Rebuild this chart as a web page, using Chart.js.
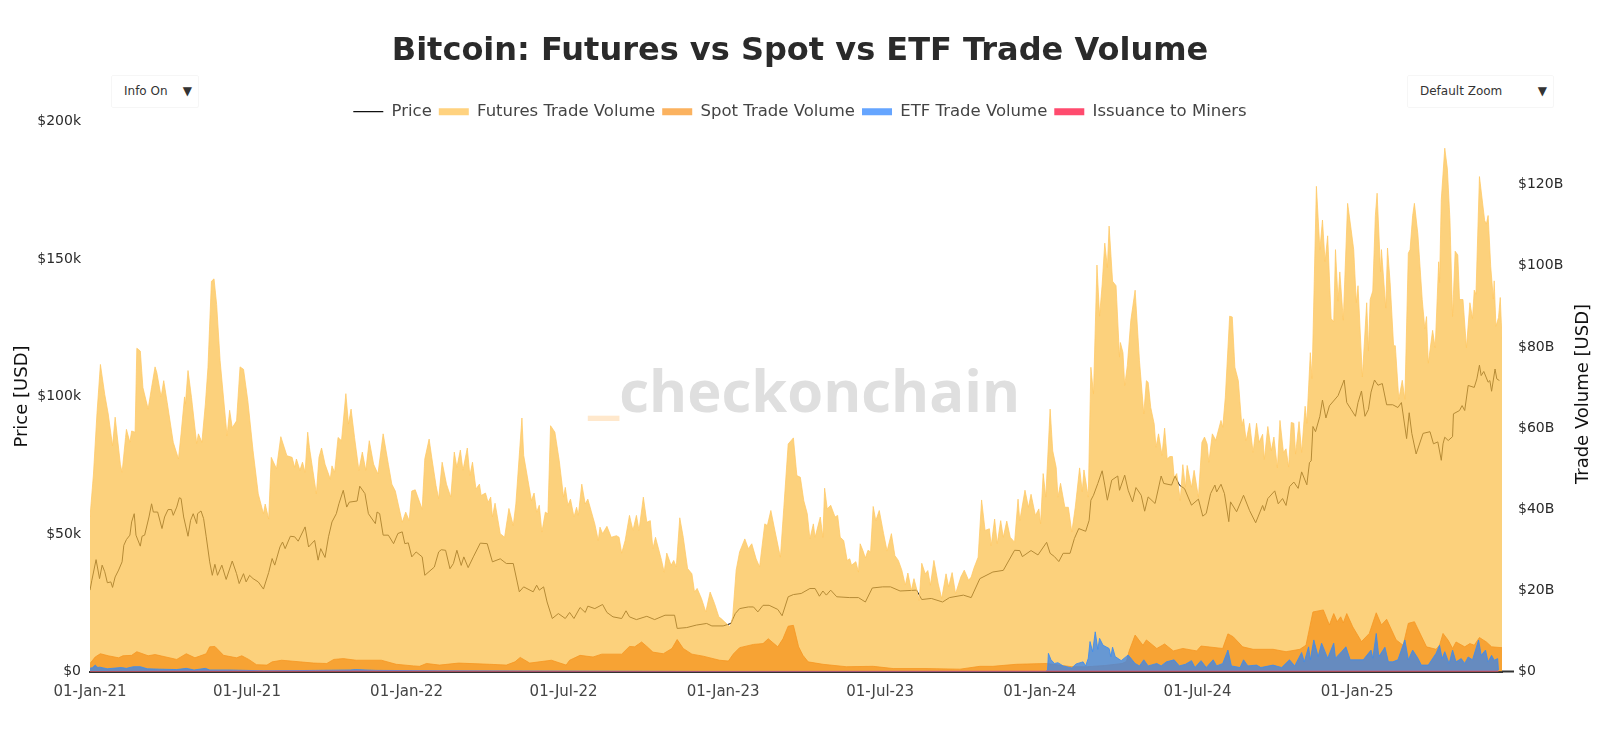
<!DOCTYPE html>
<html>
<head>
<meta charset="utf-8">
<title>Bitcoin: Futures vs Spot vs ETF Trade Volume</title>
<script src="https://cdn.jsdelivr.net/npm/chart.js@4"></script>
<style>
    html, body { margin: 0; padding: 0; background: #fff; }
    #wrap { position: relative; width: 1600px; height: 739px; overflow: hidden; font-family: 'DejaVu Sans', sans-serif; }
    #wrap canvas { position: absolute; left: 0; top: 0; z-index: 2; }
    #watermark { position: absolute; left: 588px; top: 350px; z-index: 1; font: 700 58px 'Open Sans', sans-serif; color: #dfdfdf; line-height: 80px; white-space: nowrap; }
    #watermark span { color: #ffe8cc; font-size: 76px; position: relative; top: -3px; line-height: 0; }
    .menu { position: absolute; top: 75px; height: 33px; z-index: 3; box-sizing: border-box; border: 1px solid #f6f6f6; border-radius: 2px; background: #fff; font-size: 12px; line-height: 31px; color: #333; padding-left: 12px; }
    .menu i { position: absolute; right: 6px; top: 0; font-style: normal; font-size: 12px; color: #333; }
    #rightTitle { position: absolute; left: 1482px; top: 382px; width: 200px; text-align: center; z-index: 3; font-size: 18px; line-height: 24px; color: #111; transform: rotate(-90deg); white-space: nowrap; }
</style>
</head>
<body>
<div id="wrap">
    <div id="watermark"><span>_</span>checkonchain</div>
    <canvas id="chart"></canvas>
    <div class="menu" style="left:111px;width:88px;">Info On<i>▼</i></div>
    <div class="menu" style="left:1407px;width:147px;">Default Zoom<i>▼</i></div>
    <div id="rightTitle">Trade Volume [USD]</div>
</div>
<script>
// x values are days since 01-Jan-21
const tickDays = [0, 181, 365, 546, 730, 911, 1095, 1277, 1461];
const tickLabels = ['01-Jan-21', '01-Jul-21', '01-Jan-22', '01-Jul-22', '01-Jan-23', '01-Jul-23', '01-Jan-24', '01-Jul-24', '01-Jan-25'];

const futuresDays = [0,4,8,12,17,21,26,29,35,37,41,42,46,48,52,54,58,61,67,71,75,77,82,85,89,96,102,105,109,110,113,117,123,125,129,133,136,140,143,146,150,158,161,164,169,173,177,182,188,194,200,202,206,209,215,220,227,233,236,238,242,245,248,251,253,261,264,267,271,275,277,279,282,286,290,295,298,301,305,310,314,318,322,327,332,338,344,348,352,360,364,368,371,375,383,386,391,394,399,402,406,411,416,420,423,427,430,435,438,441,445,449,451,456,459,462,464,467,473,478,483,488,491,498,500,505,509,512,515,518,521,525,528,531,536,541,546,548,551,554,558,561,563,567,571,574,582,586,588,591,596,601,607,610,613,617,622,626,630,633,638,642,646,649,652,659,662,665,670,673,676,680,684,689,694,697,700,705,710,715,720,725,728,732,738,741,745,749,755,759,763,768,772,778,781,785,790,796,800,805,811,815,819,823,827,830,834,836,842,845,847,850,854,859,862,865,869,873,876,878,883,886,888,891,894,897,900,903,906,910,915,919,924,928,932,936,940,943,947,950,954,956,959,963,966,969,973,978,982,987,990,994,998,1004,1008,1013,1016,1019,1024,1028,1032,1037,1039,1043,1046,1050,1053,1057,1061,1066,1070,1072,1078,1082,1085,1090,1094,1096,1099,1102,1107,1110,1114,1116,1119,1124,1128,1132,1136,1141,1144,1146,1151,1154,1157,1161,1164,1167,1170,1173,1175,1179,1183,1187,1188,1191,1193,1196,1200,1205,1210,1215,1218,1220,1223,1227,1229,1232,1236,1239,1242,1245,1248,1250,1253,1257,1260,1263,1265,1270,1273,1278,1282,1285,1288,1290,1294,1298,1304,1306,1309,1314,1317,1320,1324,1328,1330,1333,1337,1341,1345,1348,1352,1354,1358,1362,1365,1369,1372,1376,1379,1382,1385,1388,1390,1394,1397,1401,1403,1407,1409,1414,1418,1421,1424,1427,1431,1434,1436,1439,1441,1445,1450,1454,1457,1460,1462,1467,1472,1474,1476,1479,1482,1484,1488,1489,1494,1496,1499,1503,1505,1509,1513,1516,1520,1522,1525,1527,1531,1536,1539,1541,1543,1548,1551,1555,1556,1558,1562,1565,1568,1571,1574,1577,1579,1583,1587,1591,1594,1596,1598,1602,1608,1610,1612,1615,1618,1619,1621,1624,1626,1628];
const futuresBn = [38.1,48.7,63.5,75.7,68.3,63.5,55.6,62.7,51.1,49.1,57.7,59.7,56.5,59.3,59,79.7,79,70,64.7,70,75.1,73.7,67.7,71.7,66.3,56.5,52.4,58.6,67.7,65.9,74.2,67.6,56.2,58.6,56.5,65.9,74.9,96.2,96.8,90.5,76.6,58.1,64.4,60.1,61.8,75.1,74.5,66.7,54.4,43.8,38.9,41.3,37.6,52.8,50,57.9,53.2,52.8,50.3,52.4,49.6,51.6,49.1,59,55.2,43.8,52.8,55.1,51.1,48.7,47.4,50.7,49.1,57.7,56.9,68.5,61,64.7,57.7,49.6,54.1,49.6,56.9,51.1,48.7,58.6,51.1,46.2,44.5,36.8,39.3,37.2,44.5,44.8,40,52.4,57.3,52.8,45.8,42.6,51.6,46.2,43,54.1,50.3,54.6,49.6,55.1,48.3,51.6,45,46.2,43.4,44,41.7,43,38.1,41.5,34,33.1,40.2,36,41.3,62.5,53.3,47.1,42.1,44,39.3,41,34.4,39.3,38.9,60.6,59,52,43,45.4,41,42.5,38.1,40.5,38.5,46.2,41.3,42.5,36.4,32.3,35.6,34,35.8,33.1,33.5,33.1,29.2,32.3,38.5,34.8,38.5,34.8,43,36.8,37.2,30.3,33.1,27.4,24.5,29.2,26.2,27.4,25.8,37.9,33.1,25.4,24.1,19.6,20.5,18,14.7,19.6,16.8,13.5,13,12.2,11,13.5,25,29.5,32.7,30.3,31.5,27.8,25.8,36.4,36,39.7,34.4,28.2,40.5,56.1,57.6,48.3,47.9,42.1,38.9,32.7,36.4,33.1,38.1,33.1,45.2,40.1,41,38.1,38.5,33.1,32.3,27.4,27.8,26.2,27.1,24.5,31.5,29.9,28,29.9,29.5,40.7,37.2,39.7,34,29.7,34,28.6,27.4,25,21.3,24.3,20,22.9,19.6,17.5,26.7,24.1,24.9,21.3,27.4,21.6,18,24.1,20.9,24.4,19.2,23.3,25,22.5,23.3,25.4,28.2,42.3,34.8,35.2,31,37.6,31.5,37.2,33.1,37.1,33.1,31.9,42.5,37.2,44.7,40.5,43.7,38.5,40.1,36.4,48.8,43,64.7,54.4,50.3,43,46.4,40.5,40.5,34.4,40.5,50.2,44.3,49.7,43,75,68.4,100.2,87.6,95.4,105.6,99.6,109.8,96.2,95.1,77.5,81.1,78.6,70.5,75.4,86.5,94,76.6,63.5,71.7,71.3,65.1,61,55.3,58.6,53.3,60,52.4,53,53,47.9,48.8,42.2,51,45.4,50.8,45.4,49.6,43,56.5,57.8,56.1,51.6,58.6,57,61.9,60.2,67.6,87.6,87.4,75,71.7,60.6,62.3,56.9,61.2,54,61.2,56.5,58.5,52.3,60.4,54.4,57.8,50.2,61.9,54,54.9,50.4,61.4,61.2,53.6,61.6,54,65.4,61.2,78.6,72.2,119.6,104,111.3,101,107.4,87,86.2,104,91.3,98.5,86.6,115.4,109,104,90.9,95.1,72.6,90.9,79,91.7,93.8,112.4,117.9,98.5,104,89.6,104.4,95.9,80.3,80.3,67.1,71.8,67.1,103.1,104,112.4,115.4,107.8,91.7,84.5,87.5,76,84.1,79.8,101,95.9,116.3,129,123.9,111.2,87.5,103.6,102.7,91.7,91.7,79.8,90.9,87,94,93,122,111.2,110.3,112.4,99.8,91.8,96.3,85.1,87.3,92.2,81.9];

const spotDays = [0,6,12,21,33,38,48,54,67,75,100,111,121,134,138,144,154,169,175,183,192,204,210,221,258,273,281,292,307,336,353,373,380,388,403,425,461,480,490,496,507,532,549,553,565,580,590,613,622,628,636,642,649,661,671,677,684,694,707,726,736,742,749,765,776,782,793,799,805,811,817,822,828,845,872,903,926,964,1003,1026,1041,1068,1103,1132,1150,1170,1190,1195,1198,1205,1214,1218,1230,1239,1249,1260,1276,1281,1306,1312,1318,1329,1341,1364,1379,1395,1402,1410,1422,1429,1434,1438,1442,1445,1449,1456,1466,1475,1483,1489,1495,1506,1514,1520,1527,1541,1552,1556,1560,1566,1571,1575,1585,1591,1596,1602,1610,1616,1628];
const spotBn = [2,3.6,4.4,3.9,3.4,3.9,4,4.9,3.9,4.2,3,4.4,3.4,4.4,6.1,6.2,4,3.4,3.9,3,1.7,1.6,2.4,2.8,2.1,2,3,3.2,2.8,2.8,1.8,1.4,1.3,2,1.6,2.1,1.8,1.6,2.4,3.5,2.1,2.8,1.6,2.8,4,3.6,4.3,4.3,6.2,6.1,7.3,6.2,4.8,4.4,5.7,7.9,5.7,4.3,3.8,2.8,2.6,4.4,5.9,6.7,6.9,8.1,6.1,8.1,11.2,11.4,6.1,4,2.4,1.8,1.2,1.3,0.75,0.75,0.6,1.3,1.3,1.8,2,1.2,1.2,1.5,2,2.5,5,9,6.5,7.8,5.7,6.8,5.1,5.7,5.1,6.3,5.7,9.3,8.6,6.1,5.5,5.5,4.9,5.5,6.5,14.7,15.2,11.5,14.3,12.3,13.5,12,14.3,11,7.4,9.4,14.5,11.5,12.9,7.8,6.5,11.9,12.3,6.1,5.5,6.5,9.4,7.7,5.7,7.3,6.1,6.9,6.5,8.4,7.3,6.1,5.9];

const etfDays = [0,3,6,9,11,20,36,42,50,58,66,80,100,111,120,133,138,160,200,240,260,300,306,330,400,500,700,900,1102,1104,1105,1108,1112,1116,1122,1132,1137,1145,1148,1151,1153,1156,1159,1162,1164,1168,1175,1177,1179,1182,1189,1197,1205,1210,1215,1220,1230,1235,1241,1250,1256,1263,1270,1274,1281,1287,1295,1299,1306,1312,1316,1326,1330,1335,1345,1350,1364,1374,1383,1389,1397,1400,1405,1407,1411,1416,1420,1427,1434,1436,1443,1448,1453,1468,1477,1479,1483,1486,1493,1497,1502,1508,1516,1520,1525,1531,1535,1543,1552,1556,1559,1562,1567,1571,1575,1581,1585,1589,1594,1601,1604,1609,1612,1616,1619,1623,1624];
const etfBn = [0.8,1,1.6,1,1.1,0.7,1,0.8,1.2,1.2,0.7,0.6,0.5,0.8,0.4,0.8,0.4,0.4,0.2,0.25,0.3,0.4,0.5,0.3,0.2,0.15,0.05,0.05,0.05,0.4,4.5,2.9,2,2.2,1.4,0.9,1.9,2.4,1.4,3.3,7.4,4.9,9.8,5.5,8.2,6.5,5.7,3.7,6,3.7,2.7,4.1,2,1.4,2.9,1.4,2,1.4,2.4,2.9,1.4,1.8,2.7,1,2.7,1,2.9,1.4,2,5.3,1.4,1,2.9,1.4,1.6,1,1.6,1,2.9,1.4,4.7,2.4,6.1,2.9,7.8,3.7,7,3.3,7,3.3,4.9,6.1,2.9,2.9,5.3,3.3,9.4,3.7,6,2.4,2.4,2.9,7.8,2.9,5.3,3.3,1.6,1.6,4.5,6.5,3.2,4.9,2,5.3,2.4,3.2,2,3.6,2.9,7.8,4,5.3,2.4,4,2.8,3.2,0.4];

const issuanceDays = [0,200,365,600,730,1095,1200,1300,1624];
const issuanceBn = [0.03,0.04,0.04,0.02,0.015,0.04,0.04,0.05,0.05];

const priceDays = [0,2,7,11,14,17,20,24,26,29,33,37,39,42,46,48,51,53,58,60,63,68,71,73,78,83,86,90,94,96,100,103,105,108,113,116,119,123,124,128,131,134,138,141,144,147,152,157,164,169,172,177,180,184,188,194,200,206,210,213,219,222,225,231,236,240,248,252,259,263,266,271,275,279,284,287,292,296,299,308,311,317,321,329,331,334,338,344,350,355,360,363,367,371,376,383,386,397,402,405,410,415,419,423,428,431,436,442,450,458,464,473,480,488,495,500,511,515,518,523,527,533,540,548,553,558,565,571,574,582,591,596,603,613,618,622,630,642,651,663,674,677,688,699,711,717,730,739,744,749,759,765,770,776,783,793,798,805,811,820,830,836,841,845,849,854,861,876,886,894,902,914,923,934,953,959,970,983,991,1007,1016,1026,1041,1053,1066,1072,1075,1085,1093,1103,1107,1112,1117,1122,1130,1135,1140,1148,1152,1154,1157,1162,1167,1170,1173,1178,1185,1187,1193,1197,1202,1206,1212,1216,1220,1228,1235,1238,1247,1251,1256,1262,1270,1278,1283,1287,1292,1297,1299,1304,1308,1313,1315,1322,1330,1337,1344,1352,1354,1358,1366,1370,1375,1379,1383,1388,1393,1397,1403,1406,1408,1410,1413,1418,1421,1425,1429,1439,1446,1449,1454,1459,1462,1466,1470,1474,1477,1481,1485,1490,1495,1502,1508,1512,1518,1521,1524,1529,1537,1545,1549,1554,1558,1560,1562,1566,1571,1572,1579,1582,1585,1589,1596,1599,1602,1604,1607,1612,1614,1616,1620,1622,1625];
const priceK = [29.6,33,40.7,33.8,38.7,36.3,32.3,32.6,30.6,34.4,36.9,39.9,45.9,48,49.6,54.4,57.4,49.6,45.6,49.2,49.6,56.2,61,58,58,52,56.2,58.9,58.9,56.8,59.8,63.2,62.9,56.2,49.2,55,57.4,53.8,57.4,58.4,55.6,49,39.9,35,39,35,38.7,33.5,40.2,35.6,32,35.6,32.6,35,33.8,32.6,30,36,41.1,38.7,45.3,47.1,44.7,49.2,49,47.4,52.6,45.3,47.7,40.5,44.7,41.5,49,54.4,57.4,61,65.9,59.8,61.6,62,67.4,64.7,57.4,53.8,58,57.4,49.6,49.6,46.5,50.2,50.8,46.5,46.8,41.7,43.5,41.7,35,38,43.5,44.3,44.1,37.4,39.3,44.1,38.6,41.7,37.8,41.7,46.7,46.5,39.9,41,39.3,39.3,29,30.8,29,31.4,29.6,30.8,25.3,19.3,21.1,19.3,21.5,19.3,23.3,21.5,23.8,22.9,24.4,21.5,19.9,19.3,22.1,19.9,18.9,20.1,18.9,20.5,20.5,15.7,16,16.9,17.5,16.6,16.6,17.5,21.1,22.9,23.5,23.5,21.7,24.1,24.1,22.6,20.3,27.2,28,28.4,30.2,30.2,27.4,29.3,27.8,29.6,27.2,26.9,26.9,25.3,30.4,30.8,30.8,29.3,29.6,26.2,26.6,25.3,26.9,27.8,26.9,33.8,36.2,36.8,44.1,44,41.8,44,42.4,47,43,41.8,40,43,43,48.4,52,51,55,62.3,64.1,68.4,73,67.8,62.3,69.6,71.1,65.9,71.4,65.9,61.7,66.9,64.1,58.3,63.5,61.1,71.1,68.4,67.8,71.1,67.8,66.5,60.5,62.7,56.5,57.5,64.7,67.8,65.3,68.1,64.7,54.5,61.7,58.1,64.1,58.5,54.1,60.4,58.5,62.9,65.7,61,62.9,60.4,67.2,68.9,66.6,72.6,67.9,76,76.6,89.1,87.2,92.8,98.7,92.2,96.6,100.3,106,97.8,95.3,92.8,97.8,102,92.8,95.3,101.6,106,104.1,104.7,97,97,96,97.8,84.7,94.1,86.6,79.1,86.6,87.2,82.8,83.5,76.8,82.8,85.2,84,85.4,93.7,94.9,96.7,94.9,104,103.3,106.4,111.4,107.6,109.1,105.2,105.8,101.9,110,106.4,105.8];

const toPoints = (days, values) => days.map((d, i) => ({ x: d, y: values[i] }));

const legendSwatches = [
    { color: '#111111', width: 1.2 },
    { color: '#ffd27f', width: 7 },
    { color: '#fbb25f', width: 7 },
    { color: '#65a5ff', width: 7 },
    { color: '#ff4b6e', width: 7 },
];

new Chart(document.getElementById('chart'), {
    type: 'line',
    data: {
        datasets: [
            { label: 'Price', data: toPoints(priceDays, priceK), yAxisID: 'y', borderColor: '#000', borderWidth: 1, order: 5, fill: false },
            { label: 'Futures Trade Volume', data: toPoints(futuresDays, futuresBn), yAxisID: 'y2', borderColor: 'rgba(255,200,100,0.75)', backgroundColor: 'rgba(251,191,74,0.72)', borderWidth: 1, order: 4, fill: 'origin' },
            { label: 'Spot Trade Volume', data: toPoints(spotDays, spotBn), yAxisID: 'y2', borderColor: 'rgba(246,151,35,0.8)', backgroundColor: 'rgba(246,151,35,0.8)', borderWidth: 1, order: 3, fill: 'origin' },
            { label: 'ETF Trade Volume', data: toPoints(etfDays, etfBn), yAxisID: 'y2', borderColor: 'rgba(60,140,240,0.85)', backgroundColor: 'rgba(46,130,245,0.72)', borderWidth: 1, order: 2, fill: 'origin' },
            { label: 'Issuance to Miners', data: toPoints(issuanceDays, issuanceBn), yAxisID: 'y2', borderColor: '#ff4b6e', backgroundColor: '#ff4b6e', borderWidth: 1.2, order: 1, fill: 'origin' },
        ],
    },
    options: {
        responsive: true,
        maintainAspectRatio: false,
        animation: false,
        elements: { point: { radius: 0 }, line: { tension: 0 } },
        layout: { padding: { top: 26 } },
        plugins: {
            tooltip: { enabled: false },
            title: {
                display: true,
                text: 'Bitcoin: Futures vs Spot vs ETF Trade Volume',
                color: '#2a2a2a',
                font: { family: "'DejaVu Sans'", size: 32, weight: 'bold' },
                padding: { top: 6, bottom: 26 },
            },
            legend: {
                position: 'top',
                maxHeight: 25,
                labels: {
                    usePointStyle: true,
                    pointStyleWidth: 30,
                    color: '#444',
                    padding: 7,
                    font: { family: "'DejaVu Sans'", size: 16.5 },
                    generateLabels: (chart) => chart.data.datasets.map((ds, i) => ({
                        text: ds.label,
                        datasetIndex: i,
                        pointStyle: 'line',
                        strokeStyle: legendSwatches[i].color,
                        fillStyle: legendSwatches[i].color,
                        lineWidth: legendSwatches[i].width,
                        fontColor: '#444',
                    })),
                },
            },
        },
        scales: {
            x: {
                type: 'linear',
                min: 0,
                max: 1628,
                grid: { display: false },
                border: { display: true, color: '#333', width: 2 },
                afterBuildTicks: (scale) => { scale.ticks = tickDays.map((d) => ({ value: d })); },
                afterFit: (scale) => { scale.height = 67.4; },
                ticks: {
                    autoSkip: false,
                    maxRotation: 0,
                    padding: 3.5,
                    color: '#444',
                    font: { family: "'DejaVu Sans'", size: 15 },
                    callback: (v) => tickLabels[tickDays.indexOf(v)],
                },
            },
            y: {
                position: 'left',
                min: 0,
                max: 200,
                grid: { display: false },
                border: { display: false },
                afterFit: (scale) => { scale.width = 90; },
                title: { display: true, text: 'Price [USD]', color: '#111', font: { family: "'DejaVu Sans'", size: 18 }, padding: { top: 12, bottom: 0 } },
                ticks: {
                    stepSize: 50,
                    padding: 1,
                    color: '#2a2a2a',
                    font: { family: "'DejaVu Sans'", size: 14 },
                    callback: (v) => `$${v === 0 ? '0' : v + 'k'}`,
                },
            },
            y2: {
                position: 'right',
                min: 0,
                max: 135.6,
                border: { display: false },
                grid: {
                    drawOnChartArea: false,
                    drawTicks: true,
                    tickLength: 12,
                    tickWidth: 2,
                    tickColor: (ctx) => (ctx.tick && ctx.tick.value === 0 ? '#333' : 'transparent'),
                },
                afterFit: (scale) => { scale.width = 98; },
                ticks: {
                    stepSize: 20,
                    includeBounds: false,
                    padding: 4,
                    color: '#2a2a2a',
                    font: { family: "'DejaVu Sans'", size: 14 },
                    callback: (v) => `$${v === 0 ? '0' : v + 'B'}`,
                },
            },
        },
    },
});
</script>
</body>
</html>
